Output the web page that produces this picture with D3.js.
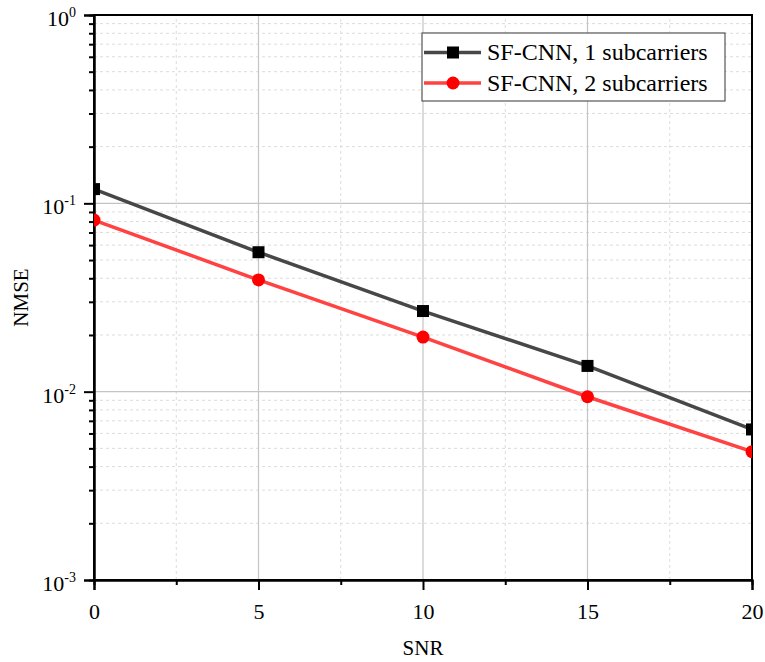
<!DOCTYPE html>
<html>
<head>
<meta charset="utf-8">
<script src="https://cdn.jsdelivr.net/npm/d3@7"></script>
<style>
  body { margin: 0; background: #fff; }
  svg { font-family: "Liberation Serif", "Times New Roman", serif; }
</style>
</head>
<body>
<svg id="chart" width="765" height="662"></svg>
<script>
// data
var SNR = [0, 5, 10, 15, 20];
var NMSE_1SC = [0.119, 0.055, 0.0268, 0.0137, 0.0063];
var NMSE_2SC = [0.0815, 0.0392, 0.0195, 0.0094, 0.0048];
var SERIES_NAMES = ["SF-CNN, 1 subcarriers", "SF-CNN, 2 subcarriers"];
var X_TICKS = [0, 5, 10, 15, 20];
var X_MINOR = [2.5, 7.5, 12.5, 17.5];
var Y_EXPONENTS = [0, -1, -2, -3];

var WIDTH = 765, HEIGHT = 662;
var MARGIN = { left: 94, top: 15, right: 13, bottom: 82 };

var svg = d3.select("#chart");

var xScale = d3.scaleLinear()
    .domain([0, 20])
    .range([MARGIN.left, WIDTH - MARGIN.right]);

var yScale = d3.scaleLog()
    .domain([1e-3, 1])
    .range([HEIGHT - MARGIN.bottom, MARGIN.top]);

var yMajor = Y_EXPONENTS.map(e => Math.pow(10, e));
var yMinor = [];
[-3, -2, -1].forEach(e => {
    for (var m = 2; m <= 9; m++) yMinor.push(m * Math.pow(10, e));
});

var x0 = xScale.range()[0], x1 = xScale.range()[1];
var y0 = yScale.range()[0], y1 = yScale.range()[1];

// grid
var grid = svg.append("g");
grid.selectAll(".hminor").data(yMinor).enter().append("line")
    .attr("x1", x0).attr("x2", x1)
    .attr("y1", d => yScale(d)).attr("y2", d => yScale(d))
    .attr("stroke", "#dcdcdc").attr("stroke-width", 1).attr("stroke-dasharray", "3,3");
grid.selectAll(".vminor").data(X_MINOR).enter().append("line")
    .attr("y1", y0).attr("y2", y1)
    .attr("x1", d => xScale(d)).attr("x2", d => xScale(d))
    .attr("stroke", "#dcdcdc").attr("stroke-width", 1).attr("stroke-dasharray", "3,3");
grid.selectAll(".hmajor").data([0.1, 0.01]).enter().append("line")
    .attr("x1", x0).attr("x2", x1)
    .attr("y1", d => yScale(d)).attr("y2", d => yScale(d))
    .attr("stroke", "#c4c4c4").attr("stroke-width", 1.2);
grid.selectAll(".vmajor").data([5, 10, 15]).enter().append("line")
    .attr("y1", y0).attr("y2", y1)
    .attr("x1", d => xScale(d)).attr("x2", d => xScale(d))
    .attr("stroke", "#c4c4c4").attr("stroke-width", 1.2);

// frame
svg.append("rect")
    .attr("x", x0).attr("y", y1)
    .attr("width", x1 - x0).attr("height", y0 - y1)
    .attr("fill", "none").attr("stroke", "#000").attr("stroke-width", 2);

// axes
var xAxis = svg.append("g")
    .attr("transform", `translate(0, ${y0})`)
    .call(d3.axisBottom(xScale).tickValues(X_TICKS).tickSize(10).tickFormat(d3.format("d")));
svg.append("g")
    .attr("transform", `translate(0, ${y0})`)
    .call(d3.axisBottom(xScale).tickValues(X_MINOR).tickSize(5).tickFormat(""));

svg.append("g")
    .attr("transform", `translate(${x0}, 0)`)
    .call(d3.axisLeft(yScale).tickValues(yMajor).tickSize(10).tickFormat(""));
svg.append("g")
    .attr("transform", `translate(${x0}, 0)`)
    .call(d3.axisLeft(yScale).tickValues(yMinor).tickSize(5).tickFormat(""));

svg.selectAll(".domain").attr("stroke", "#000").attr("stroke-width", 2);
svg.selectAll(".tick line").attr("stroke", "#000").attr("stroke-width", 2);

xAxis.selectAll(".tick text")
    .attr("font-family", "Liberation Serif, serif")
    .attr("font-size", 22)
    .attr("fill", "#000")
    .attr("dy", "1.2em");

// y labels with superscript exponent
var yLab = svg.append("g");
yLab.selectAll("text").data(Y_EXPONENTS).enter().append("text")
    .attr("x", 76)
    .attr("y", d => yScale(Math.pow(10, d)) + 11)
    .attr("text-anchor", "end")
    .attr("font-size", 22)
    .attr("fill", "#000")
    .each(function(d) {
        var t = d3.select(this);
        t.append("tspan").text("10");
        t.append("tspan").attr("font-size", 14).attr("dy", -9).text(d);
    });

// axis titles
svg.append("text")
    .attr("x", xScale(10)).attr("y", 655)
    .attr("text-anchor", "middle")
    .attr("font-size", 21)
    .text("SNR");
svg.append("text")
    .attr("transform", `translate(28, ${yScale(Math.sqrt(0.1 * 0.01))}) rotate(-90)`)
    .attr("text-anchor", "middle")
    .attr("font-size", 21)
    .text("NMSE");

// series
var seriesData = [
    { name: SERIES_NAMES[0], values: NMSE_1SC, line: "#474747", mark: "#000", shape: "square" },
    { name: SERIES_NAMES[1], values: NMSE_2SC, line: "#ff4242", mark: "#ff0000", shape: "circle" }
];

var line = d3.line()
    .x(d => xScale(d[0]))
    .y(d => yScale(d[1]));

svg.append("clipPath").attr("id", "clip")
    .append("rect").attr("x", x0).attr("y", y1).attr("width", x1 - x0).attr("height", y0 - y1);

function drawMarker(g, shape, color, cx, cy) {
    if (shape === "square") {
        g.append("rect").attr("x", cx - 6).attr("y", cy - 6)
            .attr("width", 12).attr("height", 12).attr("fill", color);
    } else {
        g.append("circle").attr("cx", cx).attr("cy", cy).attr("r", 6.5).attr("fill", color);
    }
}

seriesData.forEach(s => {
    var pts = SNR.map((x, i) => [x, s.values[i]]);
    var g = svg.append("g").attr("clip-path", "url(#clip)");
    g.append("path").datum(pts)
        .attr("fill", "none")
        .attr("stroke", s.line)
        .attr("stroke-width", 3.5)
        .attr("d", line);
    pts.forEach(p => drawMarker(g, s.shape, s.mark, xScale(p[0]), yScale(p[1])));
});

// legend
var legend = svg.append("g");
legend.append("rect")
    .attr("x", 422).attr("y", 33).attr("width", 303).attr("height", 68)
    .attr("fill", "#fff").attr("stroke", "#555").attr("stroke-width", 1.2);
seriesData.forEach((s, i) => {
    var cy = 52.5 + i * 30.5;
    legend.append("line")
        .attr("x1", 424).attr("x2", 481).attr("y1", cy).attr("y2", cy)
        .attr("stroke", s.line).attr("stroke-width", 3.5);
    drawMarker(legend, s.shape, s.mark, 453, cy);
    legend.append("text")
        .attr("x", 487).attr("y", cy + 7.5)
        .attr("font-size", 24)
        .attr("fill", "#000")
        .text(s.name);
});
</script>
</body>
</html>
